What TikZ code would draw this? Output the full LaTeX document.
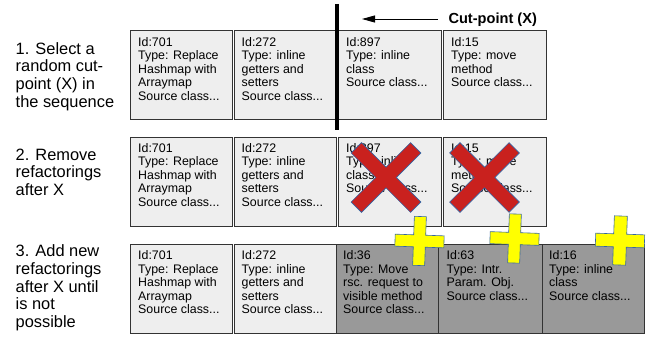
\documentclass[tikz,border=0pt]{standalone}
\usepackage{fontspec}
\setmainfont{Liberation Sans}
\usetikzlibrary{arrows.meta}

\definecolor{boxlight}{HTML}{EEEEEE}
\definecolor{boxdark}{HTML}{999999}
\definecolor{boxedge}{HTML}{333333}
\definecolor{markred}{HTML}{C9211E}
\definecolor{markyellow}{HTML}{FFFF00}
\definecolor{markedge}{HTML}{3465A4}

% cross-shaped polygon: centre, arm half-length, arm half-width, rotation, style
\newcommand\drawcross[5]{%
  \path[#5, shift={#1}, rotate=#4]
    (#3,#3) -- (#2,#3) -- (#2,-#3) -- (#3,-#3) -- (#3,-#2) -- (-#3,-#2)
    -- (-#3,-#3) -- (-#2,-#3) -- (-#2,#3) -- (-#3,#3) -- (-#3,#2) -- (#3,#2) -- cycle;}

\begin{document}
\begin{tikzpicture}[x=1pt, y=-1pt,
  card/.style={draw=boxedge, line width=0.9pt, fill=boxlight, rectangle,
               inner sep=0pt, anchor=north west, minimum height=89pt},
  darkcard/.style={card, fill=boxdark},
  cardtext/.style={anchor=north west, inner sep=0pt, align=left,
                   font=\fontsize{12.4}{13.5}\selectfont},
  steplabel/.style={anchor=north west, inner sep=0pt, align=left,
                    font=\fontsize{16.4}{17.6}\selectfont},
  removed/.style={fill=markred, draw=markedge, line width=0.6pt},
  added/.style={fill=markyellow, draw=markedge, line width=0.6pt},
]
\useasboundingbox (0,0) rectangle (651,337);

% step descriptions
\node[steplabel] (s1) at (15.5,42.2) {1. Select a\\random cut-\\point (X) in\\the sequence};
\node[steplabel] (s2) at (15.5,148.4) {2. Remove\\refactorings\\after X};
\node[steplabel] (s3) at (15.5,244.8) {3. Add new\\refactorings\\after X until\\is not\\possible};

% row 1: original sequence
\node[card, minimum width=102pt] (a1) at (130,30) {};
\node[card, minimum width=102.5pt] (a2) at (233.5,30) {};
\node[card, minimum width=103pt] (a3) at (338,30) {};
\node[card, minimum width=103pt] (a4) at (443,30) {};
\node[cardtext] (a1t) at ([shift={(8,7)}]a1.north west) {Id:701\\Type: Replace\\Hashmap with\\Arraymap\\Source class...};
\node[cardtext] (a2t) at ([shift={(8,7)}]a2.north west) {Id:272\\Type: inline\\getters and\\setters\\Source class...};
\node[cardtext] (a3t) at ([shift={(8,7)}]a3.north west) {Id:897\\Type: inline\\class\\Source class...};
\node[cardtext] (a4t) at ([shift={(8,7)}]a4.north west) {Id:15\\Type: move\\method\\Source class...};

% cut-point marker
\coordinate (cuttop) at (337,4);
\coordinate (cutbot) at (337,130);
\draw[line width=3.6pt] (cuttop) -- (cutbot);
\node[anchor=base west, inner sep=0pt, font=\fontsize{14.6}{16}\selectfont\bfseries] (cutlabel) at (448.3,23.3) {Cut-point (X)};
\coordinate (arrowtail) at (438,19);
\coordinate (arrowtip) at (362,19);
\draw[line width=0.9pt, -{Triangle[length=13pt, width=7pt]}] (arrowtail) -- (arrowtip);

% row 2: refactorings after the cut-point removed
\node[card, minimum width=102pt] (b1) at (130,137) {};
\node[card, minimum width=102.5pt] (b2) at (233.5,137) {};
\node[card, minimum width=103pt] (b3) at (338,137) {};
\node[card, minimum width=103pt] (b4) at (443,137) {};
\node[cardtext] (b1t) at ([shift={(8,6)}]b1.north west) {Id:701\\Type: Replace\\Hashmap with\\Arraymap\\Source class...};
\node[cardtext] (b2t) at ([shift={(8,6)}]b2.north west) {Id:272\\Type: inline\\getters and\\setters\\Source class...};
\node[cardtext] (b3t) at ([shift={(8,6)}]b3.north west) {Id:897\\Type: inline\\class\\Source class...};
\node[cardtext] (b4t) at ([shift={(8,6)}]b4.north west) {Id:15\\Type: move\\method\\Source class...};
\drawcross{(386,177.5)}{42}{7.3}{45}{removed}
\drawcross{(484.5,177.5)}{42}{7.3}{45}{removed}

% row 3: new refactorings appended
\node[card, minimum width=102pt] (c1) at (130,244) {};
\node[card, minimum width=102.5pt] (c2) at (233.5,244) {};
\node[darkcard, minimum width=102pt] (c3) at (336,244) {};
\node[darkcard, minimum width=104pt] (c4) at (438,244) {};
\node[darkcard, minimum width=102pt] (c5) at (542,244) {};
\node[cardtext] (c1t) at ([shift={(8,6.5)}]c1.north west) {Id:701\\Type: Replace\\Hashmap with\\Arraymap\\Source class...};
\node[cardtext] (c2t) at ([shift={(8,6.5)}]c2.north west) {Id:272\\Type: inline\\getters and\\setters\\Source class...};
\node[cardtext] (c3t) at ([shift={(7,6.5)}]c3.north west) {Id:36\\Type: Move\\rsc. request to\\visible method\\Source class...};
\node[cardtext] (c4t) at ([shift={(8.5,6.5)}]c4.north west) {Id:63\\Type: Intr.\\Param. Obj.\\Source class...};
\node[cardtext] (c5t) at ([shift={(7,6.5)}]c5.north west) {Id:16\\Type: inline\\class\\Source class...};
\drawcross{(419.5,241)}{24.5}{6}{-2}{added}
\drawcross{(514.5,238.5)}{24.5}{6}{-2}{added}
\drawcross{(620,240.5)}{24.5}{6.5}{-2}{added}
\end{tikzpicture}
\end{document}
